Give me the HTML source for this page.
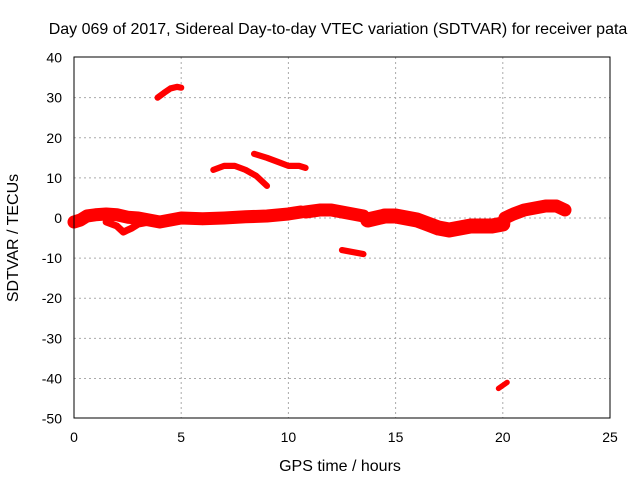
<!DOCTYPE html>
<html><head><meta charset="utf-8"><style>
body{margin:0;background:#fff}
svg{font-family:"Liberation Sans",sans-serif;font-size:14px}
</style></head><body>
<svg id="c" width="640" height="480">
<text x="338" y="34" text-anchor="middle" font-size="16">Day 069 of 2017, Sidereal Day-to-day VTEC variation (SDTVAR) for receiver pata</text>
<text x="340" y="471" text-anchor="middle" font-size="16">GPS time / hours</text>
<text transform="translate(18,238) rotate(-90)" text-anchor="middle" font-size="16">SDTVAR / TECUs</text>
<g id="grid"></g><g id="ticks"></g><g id="data"></g>
<rect x="74" y="57" width="536" height="361" fill="none" stroke="#000"/>
</svg>
<script>
const xTicks=[0,5,10,15,20,25];
const yTicks=[40,30,20,10,0,-10,-20,-30,-40,-50];
const segHours=[
[0,0.3,0.6,1,1.5,2,2.5,3,3.5,4,4.5,5,6,7,8,9,10,10.6],
[1.5,2,2.3,2.7,3,3.5],
[10.8,11.5,12,12.5,13,13.5],
[13.7,14.5,15,15.5,16,16.5,17,17.5,18,18.5,19.5,20],
[20.1,20.5,21,21.5,22,22.5,22.9],
[3.9,4.2,4.5,4.8,5],
[6.5,7,7.5,8,8.5,9],
[8.4,9,9.5,10,10.5,10.8],
[12.5,13,13.5],
[19.8,20.2]];
const segValues=[
[-1,-0.5,0.5,0.8,1,0.8,0.2,0,-0.5,-1,-0.5,0,-0.2,0,0.3,0.5,1,1.5],
[-1,-2,-3.5,-2.5,-1.5,-1],
[1.5,2,2,1.5,1,0.5],
[-0.5,0.5,0.5,0,-0.5,-1.5,-2.5,-3,-2.5,-2,-2,-1.5],
[0,1,2,2.5,3,3,2],
[30,31.2,32.3,32.7,32.5],
[12,13,13,12,10.5,8],
[16,15,14,13,13,12.5],
[-8,-8.5,-9],
[-42.5,-41]];
const segWidth=[2.5,1,2.5,3,2.5,0.8,0.8,0.8,0.8,0.6];
const X=h=>74+h*(536/25), Y=v=>218-v*(361/90);
const NS="http://www.w3.org/2000/svg";
const g=document.getElementById('grid'),t=document.getElementById('ticks'),d=document.getElementById('data');
xTicks.forEach(v=>{
 const x=X(v);
 if(v>0&&v<25){const l=document.createElementNS(NS,'line');
 
 
 l.setAttribute('x1',x);l.setAttribute('x2',x);l.setAttribute('y1',57);l.setAttribute('y2',418);l.setAttribute('stroke','#aaa');l.setAttribute('stroke-dasharray','2,3');g.appendChild(l);}
 const s=document.createElementNS(NS,'text');
 
 
 s.setAttribute('x',x);s.setAttribute('y',442);s.setAttribute('text-anchor','middle');s.textContent=v;t.appendChild(s);
});
yTicks.forEach(v=>{
 const y=Y(v);
 if(v<40&&v>-50){const l=document.createElementNS(NS,'line');
 
 
 l.setAttribute('x1',74);l.setAttribute('x2',610);l.setAttribute('y1',y);l.setAttribute('y2',y);l.setAttribute('stroke','#aaa');l.setAttribute('stroke-dasharray','2,3');g.appendChild(l);}
 const s=document.createElementNS(NS,'text');
 
 
 s.setAttribute('x',62);s.setAttribute('y',y+5);s.setAttribute('text-anchor','end');s.textContent=v;t.appendChild(s);
});
segHours.forEach((hs,i)=>{
 const p=document.createElementNS(NS,'polyline');
 
 
 p.setAttribute('points',hs.map((h,j)=>X(h)+','+Y(segValues[i][j])).join(' '));
 p.setAttribute('fill','none');p.setAttribute('stroke','#f00');
 p.setAttribute('stroke-width',segWidth[i]*361/90+3);
 p.setAttribute('stroke-linejoin','round');
 p.setAttribute('stroke-linecap','round');
 d.appendChild(p);
});
</script>
</body></html>
